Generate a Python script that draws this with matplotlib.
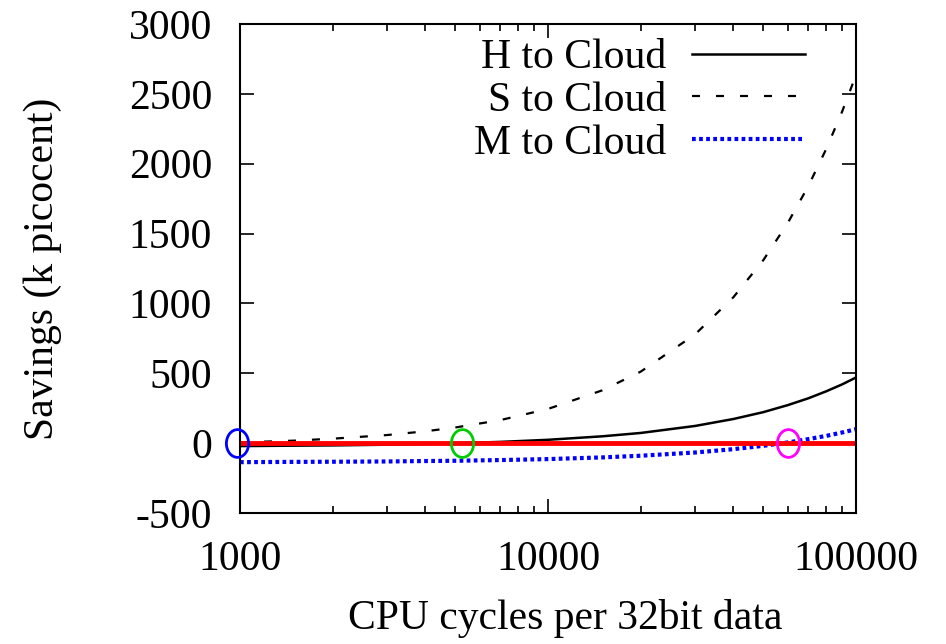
import matplotlib
matplotlib.use('Agg')
import matplotlib.pyplot as plt
from matplotlib.path import Path
from matplotlib.transforms import Affine2D
from matplotlib.ticker import LogLocator, NullFormatter

plt.rcParams['font.family'] = 'Liberation Serif'

# cycles per 32bit data (x) and savings in k picocent
cycles = [1000, 1500, 2000, 3000, 4000, 5000, 7000, 10000, 15000, 20000,
          30000, 40000, 50000, 60000, 70000, 80000, 90000, 100000]
h_cloud = [-21, -18, -16, -11, -6, -1, 9, 24, 49, 73,
           123, 173, 222, 272, 321, 371, 420, 470]
s_cloud = [5, 18, 32, 58, 85, 112, 165, 245, 378, 512,
           778, 1045, 1310, 1575, 1840, 2105, 2370, 2635]
m_cloud = [-136, -134, -133, -131, -128, -126, -121, -114, -102, -90,
           -67, -43, -19, 5, 29, 52, 76, 100]

# break-even points (circled)
be_x = [980, 5240, 60100]
be_y = [0, 0, 0]
be_colors = ['#0000ff', '#00cc00', '#ff00ff']

fig = plt.figure(figsize=(9.46, 6.44), dpi=100)
ax = fig.add_axes([0.2537, 0.2034, 0.6512, 0.7593])

ax.plot(cycles, h_cloud, color='black', lw=1.8, label='H to Cloud')
ax.plot(cycles, s_cloud, color='black', lw=1.6, dashes=(3.6, 7.2), label='S to Cloud')
ax.plot(cycles, m_cloud, color='#0000ff', lw=3, dashes=(0.9, 0.8), label='M to Cloud')
ax.axhline(0, color='#ff0000', lw=3.5)

# oval "O" marker
oval = Path.unit_circle().transformed(Affine2D().scale(0.8, 1.0))
for x, y, c in zip(be_x, be_y, be_colors):
    ax.plot([x], [y], marker=oval, ms=20, mfc='none', mec=c, mew=2,
            linestyle='none', zorder=5, clip_on=False)

ax.set_xscale('log')
ax.set_xlim(1000, 100000)
ax.set_ylim(-500, 3000)
ax.set_xticks([1000, 10000, 100000])
ax.set_xticklabels(['1000', '10000', '100000'])
ax.xaxis.set_minor_locator(LogLocator(base=10, subs=range(2, 10)))
ax.xaxis.set_minor_formatter(NullFormatter())
ax.set_yticks(range(-500, 3001, 500))
ax.set_yticklabels([str(v) for v in range(-500, 3001, 500)])

ax.tick_params(which='both', direction='in', top=True, right=True, labelsize=30,
               width=1.2)
ax.tick_params(which='major', length=10, pad=20)
ax.tick_params(which='minor', length=5)
for s in ax.spines.values():
    s.set_linewidth(1.5)

ax.set_xlabel('CPU cycles per 32bit data', fontsize=30)
ax.xaxis.set_label_coords(0.528, -0.176)
ax.set_ylabel('Savings (k picocent)', fontsize=30)
ax.yaxis.set_label_coords(-0.289, 0.5)

ax.legend(loc='upper right', frameon=False, fontsize=30, markerfirst=False,
          handlelength=2.7, handletextpad=0.62, labelspacing=0.1,
          borderaxespad=0, borderpad=0, bbox_to_anchor=(0.917, 0.97))

fig.savefig('out.png', dpi=100)
